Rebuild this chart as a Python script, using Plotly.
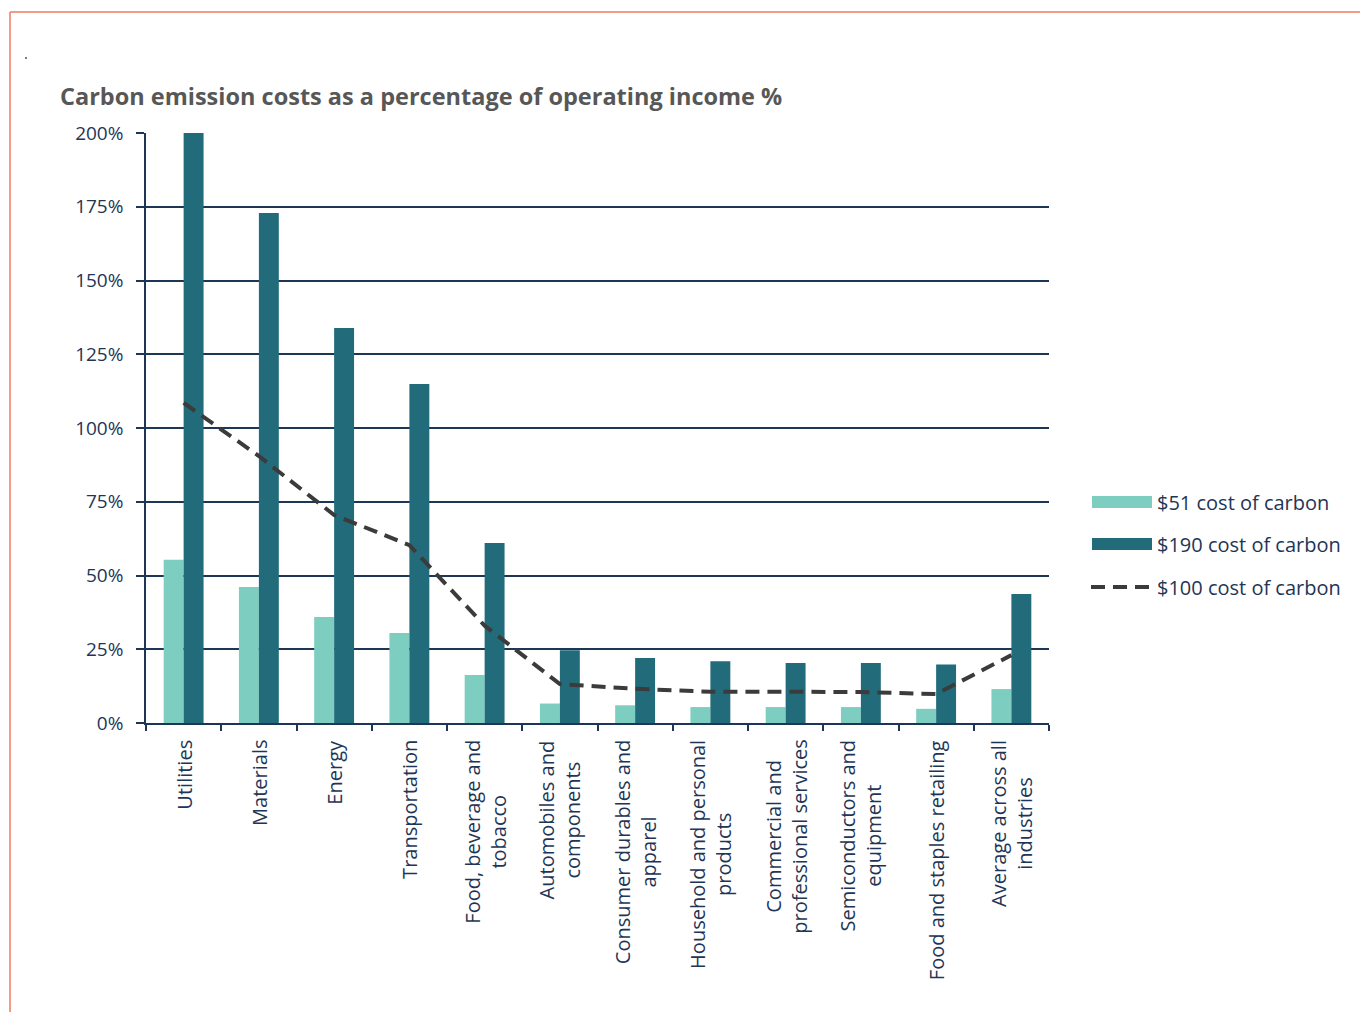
import plotly.graph_objects as go

# Industry categories (line breaks as shown under the axis)
categories = [
    "Utilities", "Materials", "Energy", "Transportation",
    "Food, beverage and<br>tobacco", "Automobiles and<br>components",
    "Consumer durables and<br>apparel", "Household and personal<br>products",
    "Commercial and<br>professional services", "Semiconductors and<br>equipment",
    "Food and staples retailing", "Average across all<br>industries",
]

# Carbon costs as % of operating income
cost_51 = [55.3, 46.1, 35.9, 30.5, 16.3, 6.6, 6.0, 5.4, 5.4, 5.4, 4.8, 11.5]
cost_190 = [200.0, 172.9, 133.9, 114.9, 61.0, 24.7, 22.0, 20.9, 20.3, 20.3, 19.8, 43.7]
cost_100 = [108.5, 90.5, 70.5, 60.3, 33.0, 13.2, 11.6, 10.6, 10.6, 10.5, 9.8, 23.0]

y_ticks = [0, 25, 50, 75, 100, 125, 150, 175, 200]
y_tick_labels = [f"{v}%" for v in y_ticks]

LIGHT = "#7dcdc0"
DARK = "#226b7b"
NAVY = "#1e3656"
LINE = "#3b3b3b"
BORDER = "#f07a5c"
FONT = "Open Sans"

W, H = 1360, 1012
ML, MR, MT, MB = 146, 311, 133, 289
PW, PH = W - ML - MR, H - MT - MB


def px_x(x):
    return (x - ML) / PW


def px_y(y):
    return (H - MB - y) / PH


fig = go.Figure()
fig.add_trace(go.Bar(x=categories, y=cost_51, name="$51 cost of carbon",
                     marker=dict(color=LIGHT, line=dict(width=0))))
fig.add_trace(go.Bar(x=categories, y=cost_190, name="$190 cost of carbon",
                     marker=dict(color=DARK, line=dict(width=0))))
fig.add_trace(go.Scatter(x=categories, y=cost_100, name="$100 cost of carbon",
                         mode="lines", line=dict(color=LINE, width=4, dash="14px,8px")))

shapes = [
    # frame
    dict(type="line", xref="paper", yref="paper", x0=px_x(10), x1=px_x(1360),
         y0=px_y(12), y1=px_y(12), line=dict(color=BORDER, width=1.5)),
    dict(type="line", xref="paper", yref="paper", x0=px_x(10), x1=px_x(10),
         y0=px_y(12), y1=px_y(1012), line=dict(color=BORDER, width=1.5)),
    # small dot
    dict(type="circle", xref="paper", yref="paper", x0=px_x(25), x1=px_x(27),
         y0=px_y(57), y1=px_y(59), fillcolor="#555", line=dict(width=0)),
]

annotations = []

# category labels, rotated, lines centred on each other
for cat in categories:
    annotations.append(dict(text=cat, xref="x", yref="paper", x=cat, y=px_y(738),
                            xanchor="center", yanchor="top", textangle=-90, align="center",
                            showarrow=False, font=dict(family=FONT, size=20, color=NAVY)))

legend_items = [
    ("$51 cost of carbon", 502, "bar", LIGHT),
    ("$190 cost of carbon", 544, "bar", DARK),
    ("$100 cost of carbon", 587, "dash", LINE),
]
for label, ypix, kind, color in legend_items:
    if kind == "bar":
        shapes.append(dict(type="rect", xref="paper", yref="paper",
                           x0=px_x(1092), x1=px_x(1152), y0=px_y(ypix - 6), y1=px_y(ypix + 6),
                           fillcolor=color, line=dict(width=0)))
    else:
        shapes.append(dict(type="line", xref="paper", yref="paper",
                           x0=px_x(1091), x1=px_x(1149), y0=px_y(ypix), y1=px_y(ypix),
                           line=dict(color=color, width=4, dash="14px,8px")))
    annotations.append(dict(text=label, xref="paper", yref="paper", x=px_x(1155), y=px_y(ypix),
                            xanchor="left", yanchor="middle", showarrow=False,
                            font=dict(family=FONT, size=20, color=NAVY)))

fig.update_layout(
    width=W, height=H,
    margin=dict(l=ML, r=MR, t=MT, b=MB),
    paper_bgcolor="white", plot_bgcolor="white",
    barmode="group", bargap=0.47, bargroupgap=0,
    showlegend=False,
    title=dict(text="<b>Carbon emission costs as a percentage of operating income %</b>",
               x=60 / W, xanchor="left", y=1 - 97 / H, yanchor="middle",
               font=dict(family=FONT, size=23.5, color="#575757")),
    xaxis=dict(type="category", showgrid=False, showline=True, linecolor=NAVY, linewidth=1.5,
               ticks="outside", tickson="boundaries", ticklen=6, tickwidth=1.5, tickcolor=NAVY,
               showticklabels=False),
    yaxis=dict(range=[0, 200], tickvals=y_ticks, ticktext=y_tick_labels,
               showgrid=True, gridcolor=NAVY, gridwidth=1.5, zeroline=False,
               showline=True, linecolor=NAVY, linewidth=1.5,
               ticks="outside", ticklen=8, tickwidth=1.5, tickcolor=NAVY,
               ticklabelstandoff=9,
               tickfont=dict(family=FONT, size=19, color=NAVY)),
    shapes=shapes,
    annotations=annotations,
)

fig.write_html("out.html")
